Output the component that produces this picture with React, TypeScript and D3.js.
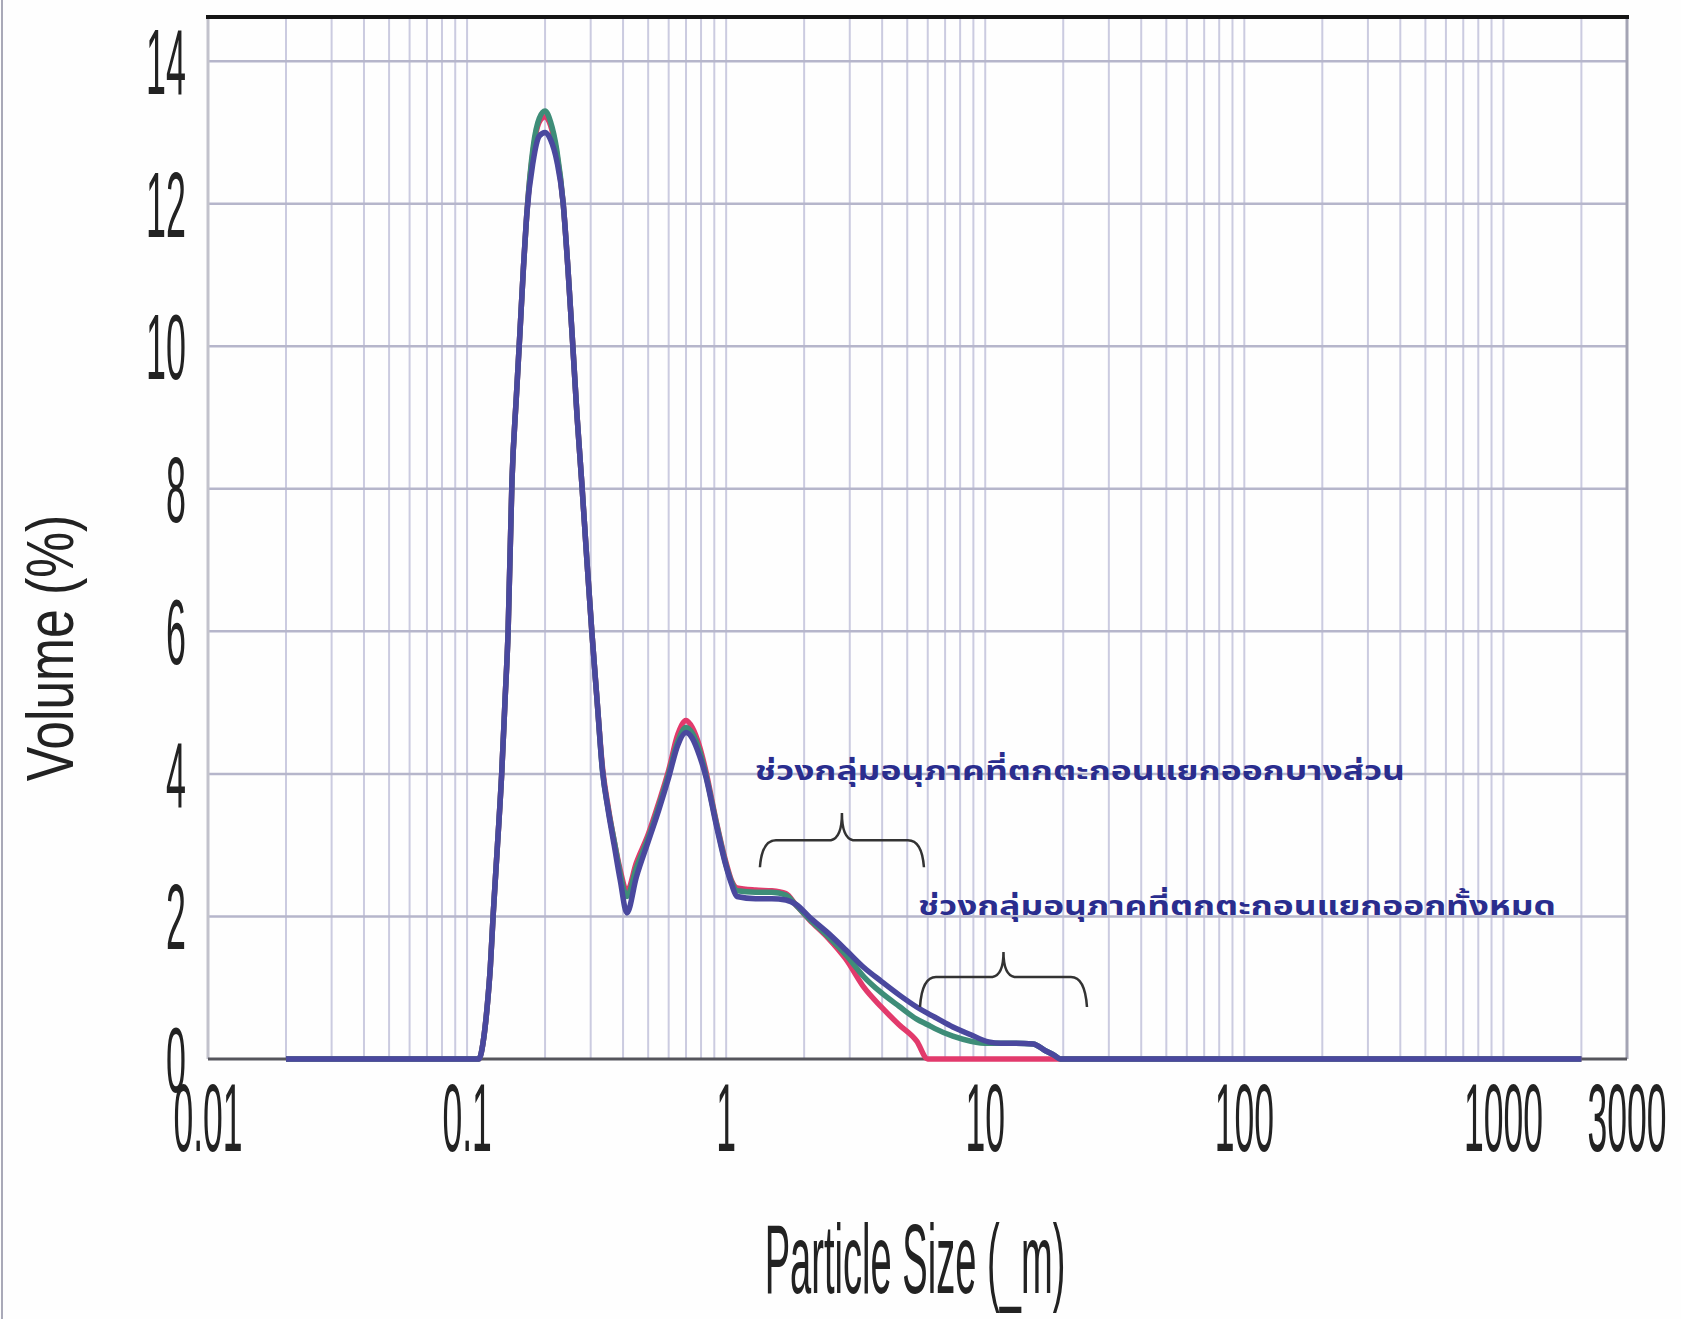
import React from "react";
import * as d3 from "d3";

const sizes = [
  0.02, 0.05, 0.1, 0.111, 0.116, 0.12, 0.123, 0.126, 0.131, 0.136,
  0.14, 0.144, 0.149, 0.155, 0.16, 0.165, 0.17, 0.18, 0.19, 0.2,
  0.21, 0.222, 0.235, 0.245, 0.256, 0.266, 0.277, 0.29, 0.303, 0.318,
  0.333, 0.35, 0.37, 0.39, 0.414, 0.45, 0.5, 0.55, 0.6, 0.65,
  0.7, 0.74, 0.79, 0.83, 0.92, 1.0, 1.05, 1.1, 1.3, 1.5,
  1.7, 1.86, 2.1, 2.47, 2.9, 3.41, 3.97, 4.65, 5.44, 6.0,
  6.37, 7.5, 8.8, 10.3, 11.5, 13, 15.3, 17, 18.5, 19.5,
  25, 100, 1000, 2000,
];

// volume (%) per series
const redValues = [
  0, 0, 0, 0, 0.3, 0.8, 1.3, 2.0, 3.0, 4.0,
  5.0, 6.0, 8.1, 9.3, 10.2, 11.1, 11.85, 12.75, 13.15, 13.22,
  13.1, 12.7, 12.0, 11.1, 10.0, 9.0, 8.1, 7.0, 6.0, 5.0,
  4.1, 3.55, 3.05, 2.65, 2.35, 2.75, 3.15, 3.6, 4.05, 4.55,
  4.75, 4.65, 4.38, 4.08, 3.3, 2.75, 2.5, 2.4, 2.37, 2.36,
  2.32, 2.16, 1.95, 1.7, 1.4, 1.0, 0.73, 0.48, 0.25, 0,
  0, 0, 0, 0, 0, 0, 0, 0, 0, 0,
  0, 0, 0, 0,
];
const greenValues = [
  0, 0, 0, 0, 0.3, 0.8, 1.3, 2.0, 3.0, 4.0,
  5.0, 6.0, 8.1, 9.3, 10.2, 11.1, 11.85, 12.8, 13.2, 13.3,
  13.15, 12.75, 12.0, 11.1, 10.0, 9.0, 8.1, 7.0, 6.0, 5.0,
  4.05, 3.52, 3.05, 2.6, 2.28, 2.68, 3.1, 3.55, 4.0, 4.45,
  4.65, 4.57, 4.32, 4.03, 3.28, 2.72, 2.48, 2.36, 2.34, 2.34,
  2.3, 2.16, 1.96, 1.72, 1.46, 1.15, 0.93, 0.74, 0.56, 0.48,
  0.43, 0.32, 0.25, 0.22, 0.22, 0.22, 0.21, 0.12, 0.05, 0,
  0, 0, 0, 0,
];
const blueValues = [
  0, 0, 0, 0, 0.3, 0.8, 1.3, 2.0, 3.0, 4.0,
  5.0, 6.0, 8.1, 9.3, 10.2, 11.1, 11.85, 12.6, 12.95, 13.0,
  12.9, 12.6, 12.0, 11.1, 10.0, 9.0, 8.1, 7.0, 6.0, 5.0,
  4.05, 3.5, 2.99, 2.51, 2.05, 2.55, 3.05, 3.5, 3.95, 4.4,
  4.58, 4.5, 4.25, 4.0, 3.25, 2.7, 2.45, 2.28, 2.25, 2.25,
  2.23, 2.17, 1.99, 1.77, 1.53, 1.28, 1.09, 0.9, 0.73, 0.64,
  0.59, 0.45, 0.34, 0.24, 0.22, 0.22, 0.21, 0.12, 0.05, 0,
  0, 0, 0, 0,
];

const seriesColors = ["#e23a6c", "#3e8d78", "#4a489e"];

const yTicks = [0, 2, 4, 6, 8, 10, 12, 14];
const yTop = 14.62;
const xTickValues = [0.01, 0.1, 1, 10, 100, 1000, 3000];
const xTickLabels = ["0.01", "0.1", "1", "10", "100", "1000", "3000"];

// annotations: text, start size, end size, baseline value
const noteTexts = [
  "ช่วงกลุ่มอนุภาคที่ตกตะกอนแยกออกบางส่วน",
  "ช่วงกลุ่มอนุภาคที่ตกตะกอนแยกออกทั้งหมด",
];
const noteStart = [1.29, 5.5];
const noteEnd = [417, 1596];
const noteBaseline = [3.91, 2.02];
// braces: from size, to size, tip value, bar value, cusp value
const braceFrom = [1.35, 5.6];
const braceTo = [5.8, 24.7];
const braceTip = [2.69, 0.73];
const braceBar = [3.07, 1.15];
const braceCusp = [3.45, 1.5];

const digitFont = "'Liberation Sans', Arial, sans-serif";
const thaiFont = "'Noto Sans Thai', 'Noto Sans Thai UI', Tahoma, Loma, Garuda, Sarabun, 'Noto Sans', sans-serif";

function bracePath(x1: number, x2: number, yTip: number, yBar: number, yCusp: number) {
  const xm = (x1 + x2) / 2;
  const r = 16;
  return `M${x1},${yTip} Q${x1 + 2},${yBar} ${x1 + r},${yBar} L${xm - 11},${yBar} ` +
    `Q${xm},${yBar - 2} ${xm},${yCusp} Q${xm},${yBar - 2} ${xm + 11},${yBar} ` +
    `L${x2 - r},${yBar} Q${x2 - 2},${yBar} ${x2},${yTip}`;
}

export default function App() {
  const x = d3.scaleLog().domain([0.01, 3000]).range([208, 1627]);
  const y = d3.scaleLinear().domain([0, yTop]).range([1059, 17]);

  const line = d3
    .line<number>()
    .x((_, i) => x(sizes[i]))
    .y((d) => y(d))
    .curve(d3.curveMonotoneX);

  const minorX = x.ticks().filter((t) => t > 0.01 && t < 3000);
  const series = [redValues, greenValues, blueValues];

  return (
    <svg
      width={1681}
      height={1319}
      style={{ position: "absolute", left: 0, top: 0, background: "#fff" }}
    >
      <rect x={0} y={0} width={1681} height={1319} fill="#fefefe" />
      <line x1={2} x2={2} y1={0} y2={1319} stroke="#a9a9b8" strokeWidth={2} />

      {/* vertical grid */}
      {minorX.map((t) => (
        <line key={"v" + t} x1={x(t)} x2={x(t)} y1={y(yTop)} y2={y(0)} stroke="#cbcbe0" strokeWidth={2} />
      ))}
      {/* horizontal grid */}
      {yTicks.filter((t) => t > 0).map((t) => (
        <line key={"h" + t} x1={x(0.01)} x2={x(3000)} y1={y(t)} y2={y(t)} stroke="#b6b6cb" strokeWidth={2.5} />
      ))}

      {/* frame */}
      <line x1={x(0.01)} x2={x(0.01)} y1={y(yTop)} y2={y(0)} stroke="#c2c2cc" strokeWidth={3} />
      <line x1={x(3000)} x2={x(3000)} y1={y(yTop)} y2={y(0)} stroke="#a4a4b4" strokeWidth={3} />
      <line x1={x(0.01)} x2={x(3000)} y1={y(0)} y2={y(0)} stroke="#55555c" strokeWidth={3} />
      <line x1={x(0.01) - 2} x2={x(3000) + 2} y1={y(yTop)} y2={y(yTop)} stroke="#151515" strokeWidth={4} />

      {/* curves */}
      {series.map((vals, i) => (
        <path key={"s" + i} d={line(vals) || ""} fill="none" stroke={seriesColors[i]} strokeWidth={5.5} strokeLinejoin="round" />
      ))}

      {/* y tick labels */}
      {yTicks.map((t) => (
        <text
          key={"yl" + t}
          transform={`translate(186,${y(t) + 33}) scale(0.39,1)`}
          textAnchor="end"
          fontFamily={digitFont}
          fontSize={92}
          fill="#222"
        >
          {t}
        </text>
      ))}

      {/* x tick labels */}
      {xTickValues.map((v, i) => (
        <text
          key={"xl" + v}
          transform={`translate(${x(v)},1151) scale(0.37,1)`}
          textAnchor="middle"
          fontFamily={digitFont}
          fontSize={96}
          fill="#222"
        >
          {xTickLabels[i]}
        </text>
      ))}

      {/* axis titles */}
      <text
        transform="translate(915,1293) scale(0.385,1)"
        textAnchor="middle"
        fontFamily={digitFont}
        fontSize={99}
        fill="#222"
      >
        Particle Size (_m)
      </text>
      <text
        transform="translate(73,648) rotate(-90) scale(0.77,1)"
        textAnchor="middle"
        fontFamily={digitFont}
        fontSize={67}
        fill="#222"
      >
        Volume (%)
      </text>

      {/* annotations */}
      {noteTexts.map((t, i) => (
        <text
          key={"n" + i}
          x={x(noteStart[i])}
          y={y(noteBaseline[i])}
          textLength={x(noteEnd[i]) - x(noteStart[i])}
          lengthAdjust="spacingAndGlyphs"
          fontFamily={thaiFont}
          fontWeight="bold"
          fontSize={27}
          fill="#2a2d8e"
        >
          {t}
        </text>
      ))}
      {braceFrom.map((b, i) => (
        <path
          key={"b" + i}
          d={bracePath(x(b), x(braceTo[i]), y(braceTip[i]), y(braceBar[i]), y(braceCusp[i]))}
          fill="none"
          stroke="#333"
          strokeWidth={2.5}
        />
      ))}
    </svg>
  );
}
